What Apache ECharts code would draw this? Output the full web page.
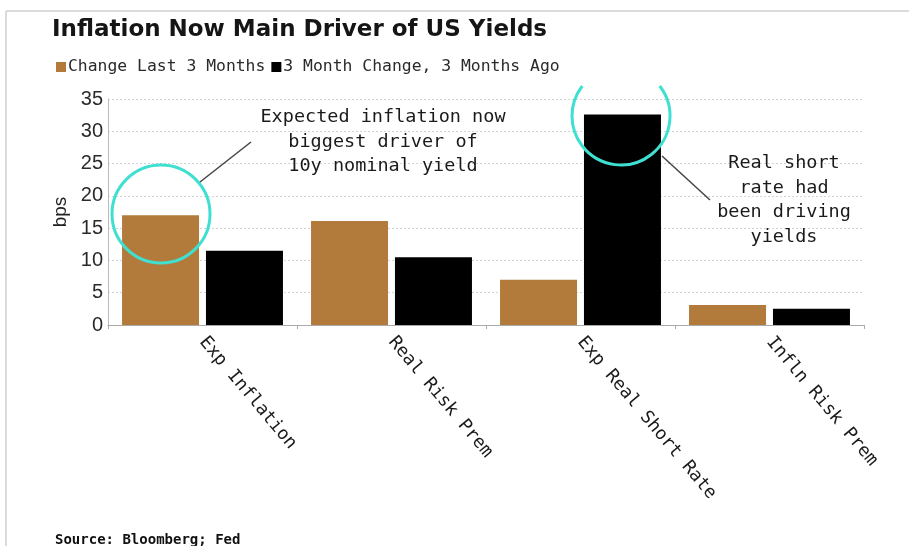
<!DOCTYPE html>
<html>
<head>
<meta charset="utf-8">
<script src="https://cdn.jsdelivr.net/npm/echarts@6/dist/echarts.min.js"></script>
<style>
  html, body { margin: 0; padding: 0; background: #fff; }
  #chart { width: 909px; height: 546px; }
</style>
</head>
<body>
<div id="chart"></div>
<script>
// Decomposition of the change in the US 10y nominal yield (bps)
const categories = ['Exp Inflation', 'Real Risk Prem', 'Exp Real Short Rate', 'Infln Risk Prem'];
const changeLast3M = [17.0, 16.1, 7.0, 3.1];
const change3MAgo = [11.5, 10.5, 32.6, 2.5];
const yTicks = [0, 5, 10, 15, 20, 25, 30, 35];

const GOLD = '#b27b3c';
const CYAN = '#3fe0d2';
const MONO = '"DejaVu Sans Mono", "Liberation Mono", monospace';

const chart = echarts.init(document.getElementById('chart'), null, { renderer: 'canvas' });

chart.setOption({
  animation: false,
  backgroundColor: '#fff',
  title: {
    text: 'Inflation Now Main Driver of US Yields',
    left: 47, top: 14,
    textStyle: { fontFamily: '"DejaVu Sans", sans-serif', fontWeight: 'bold', fontSize: 23, color: '#151515' }
  },
  legend: {
    left: 51, top: 54,
    icon: 'rect', itemWidth: 10, itemHeight: 10, itemGap: 6,
    textStyle: { fontFamily: MONO, fontSize: 16.4, color: '#2a2a2a', padding: [0, 0, 0, -3] },
    data: ['Change Last 3 Months', '3 Month Change, 3 Months Ago']
  },
  grid: { left: 108, right: 45, top: 99, bottom: 221 },
  xAxis: {
    type: 'category',
    data: categories,
    axisLine: { lineStyle: { color: '#aaa', width: 1 } },
    axisTick: { show: true, length: 4, lineStyle: { color: '#aaa' } },
    axisLabel: {
      rotate: -50, margin: 14, interval: 0,
      fontFamily: MONO, fontSize: 18, color: '#1a1a1a'
    }
  },
  yAxis: {
    type: 'value',
    min: yTicks[0], max: yTicks[yTicks.length - 1], interval: 5,
    name: 'bps', nameLocation: 'middle', nameGap: 38, nameRotate: 90,
    nameTextStyle: { fontFamily: '"Liberation Sans", sans-serif', fontSize: 19, color: '#222' },
    axisLine: { show: true, lineStyle: { color: '#bbb' } },
    axisTick: { show: false },
    axisLabel: { fontFamily: '"Liberation Sans", sans-serif', fontSize: 20, color: '#2a2a2a', margin: 5 },
    splitLine: { lineStyle: { color: '#d4d4d4', type: [2, 2], width: 1 } }
  },
  series: [
    {
      name: 'Change Last 3 Months', type: 'bar',
      data: changeLast3M, barWidth: 77, barGap: '9%',
      itemStyle: { color: GOLD }
    },
    {
      name: '3 Month Change, 3 Months Ago', type: 'bar',
      data: change3MAgo, barWidth: 77,
      itemStyle: { color: '#000' }
    }
  ],
  graphic: [
    // page frame
    { type: 'line', shape: { x1: 6, y1: 11, x2: 909, y2: 11 }, style: { stroke: '#cfcfcf', lineWidth: 1.5 } },
    { type: 'line', shape: { x1: 6, y1: 11, x2: 6, y2: 546 }, style: { stroke: '#cfcfcf', lineWidth: 1.5 } },
    // highlight rings
    { type: 'circle', shape: { cx: 161, cy: 214, r: 49 }, style: { fill: 'none', stroke: CYAN, lineWidth: 3 }, z: 10 },
    { type: 'arc', shape: { cx: 621, cy: 116, r: 49, startAngle: -0.66, endAngle: Math.PI + 0.66, clockwise: true },
      style: { fill: 'none', stroke: CYAN, lineWidth: 3 }, z: 10 },
    // callout leaders
    { type: 'line', shape: { x1: 200, y1: 182, x2: 251, y2: 142 }, style: { stroke: '#444', lineWidth: 1.5 }, z: 10 },
    { type: 'line', shape: { x1: 662, y1: 156, x2: 710, y2: 200 }, style: { stroke: '#444', lineWidth: 1.5 }, z: 10 },
    // callout texts
    { type: 'text', x: 383, y: 105, z: 10,
      style: { text: 'Expected inflation now\nbiggest driver of\n10y nominal yield', align: 'center', verticalAlign: 'top',
        font: '18.5px ' + MONO, lineHeight: 24.5, fill: '#1a1a1a' } },
    { type: 'text', x: 784, y: 151, z: 10,
      style: { text: 'Real short\nrate had\nbeen driving\nyields', align: 'center', verticalAlign: 'top',
        font: '18.5px ' + MONO, lineHeight: 24.5, fill: '#1a1a1a' } },
    // source
    { type: 'text', x: 55, y: 540,
      style: { text: 'Source: Bloomberg; Fed', align: 'left', verticalAlign: 'middle',
        font: 'bold 14px ' + MONO, fill: '#111' } }
  ]
});
</script>
</body>
</html>
